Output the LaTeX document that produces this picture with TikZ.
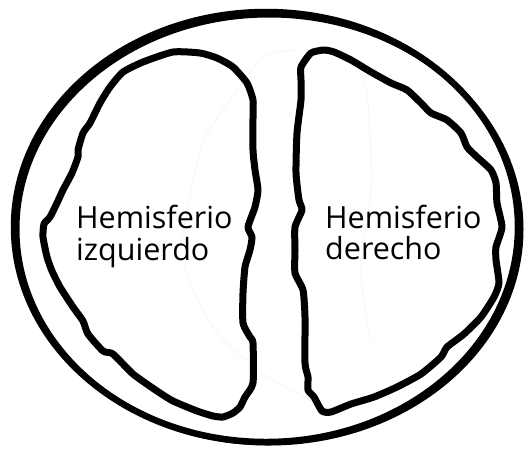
\documentclass[tikz,border=0pt]{standalone}
\usepackage{fontspec}
\setmainfont{Open Sans}
\usetikzlibrary{positioning}

\begin{document}
\begin{tikzpicture}[x=1pt,y=-1pt,line join=round,cap=round]
% Colors
\colorlet{outlinecolor}{black}
\colorlet{ghostcolor}{black!4}
% Styles
\tikzstyle{skull line}=[line width=6.5pt,draw=outlinecolor]
\tikzstyle{brain line}=[line width=7pt,draw=outlinecolor]
\tikzstyle{ghost line}=[line width=0.7pt,draw=ghostcolor]
\tikzstyle{label text}=[inner sep=0pt,align=left,font=\fontsize{30.5}{32}\selectfont]
% The graphic
\useasboundingbox (0,0) rectangle (529,448);
\fill[white] (0,0) rectangle (529,448);
% faint traces in the middle
\draw[style=ghost line] plot[smooth,tension=0.5] coordinates
  {(297,50) (264,57) (230,100) (203,143) (187,213) (182,260) (213,327) (260,371) (300,395) (331,411)};
\draw[style=ghost line] plot[smooth,tension=0.5] coordinates
  {(357,70) (367,93) (371,187) (361,271) (371,341)};
% outer outline
\draw[style=skull line] (266,227) ellipse (252 and 215);
\draw[style=skull line,line width=5pt] (269,229) ellipse (252 and 214);
% left hemisphere
\draw[style=brain line] plot[smooth cycle,tension=0.35] coordinates {
  (173,52) (200,53) (217,58) (233,67) (247,83) (253,100) (253,117)
  (253,150) (255,170) (258,190) (255,207) (248,227) (252,237) (250,250)
  (245,267) (243,293) (243,323) (250,337) (253,343) (253,383) (245,397)
  (240,407) (233,413) (223,417) (213,416) (197,411) (173,401) (157,391)
  (133,374) (113,354) (103,351) (88,334) (83,321) (73,307) (60,287)
  (52,271) (47,257) (43,237) (44,224) (50,217) (57,203) (63,190)
  (72,173) (78,157) (78,150) (83,133) (90,123) (100,103) (110,87)
  (123,72) (143,62)};
% right hemisphere
\draw[style=brain line] plot[smooth cycle,tension=0.35] coordinates {
  (324,50) (334,52) (351,60) (371,72) (391,83) (407,90) (421,103)
  (431,113) (447,120) (461,133) (467,147) (477,157) (491,170) (496,183)
  (497,203) (502,227) (496,247) (496,260) (499,283) (494,297) (481,317)
  (464,334) (447,347) (441,357) (421,374) (397,387) (374,397) (351,404)
  (331,412) (322,411) (314,397) (308,390) (308,377) (305,363) (305,317)
  (303,290) (295,273) (295,250) (295,227) (302,210) (299,200) (296,173)
  (297,133) (301,100) (301,80) (301,67) (311,53)};
% labels
\node[style=label text,anchor=base west] (left name) at (76,228) {Hemisferio};
\node[style=label text,anchor=base west] (left name2) at (76,260) {izquierdo};
\node[style=label text,anchor=base west] (right name) at (325,228) {Hemisferio};
\node[style=label text,anchor=base west] (right name2) at (325,259) {derecho};
\end{tikzpicture}
\end{document}
